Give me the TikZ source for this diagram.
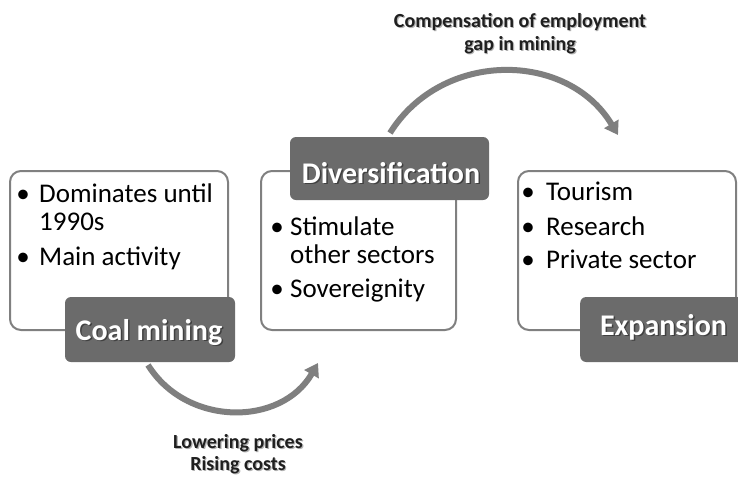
\documentclass[tikz,border=0pt]{standalone}
\usepackage{fontspec}
\setmainfont{Carlito}
\usetikzlibrary{arrows.meta}
\definecolor{boxline}{HTML}{808080}
\definecolor{darkfill}{HTML}{6B6B6B}
\definecolor{arrowc}{HTML}{7F7F7F}
\tikzset{
  whitebox/.style={draw=boxline, line width=2pt, fill=white, rounded corners=11pt, anchor=north west, inner sep=0pt},
  darkbox/.style={fill=darkfill, rounded corners=6pt, inner sep=0pt},
  bodytxt/.style={font=\fontsize{27}{28}\selectfont, inner sep=0pt, anchor=base west, text=black},
  bul/.style={font=\fontsize{27}{28}\selectfont, inner sep=0pt, anchor=base, text=black},
  lbltxt/.style={font=\fontsize{30}{32}\selectfont\bfseries, text=white, inner sep=0pt, anchor=base},
  lblshadow/.style={lbltxt, text=black!75},
  captxt/.style={font=\fontsize{20}{23}\selectfont\bfseries, inner sep=0pt, anchor=base, text=black!88},
  capshadow/.style={captxt, text=black!30},
  flow/.style={draw=arrowc, line width=6pt, -{Triangle[length=13pt,width=16pt]}},
}
\begin{document}
\begin{tikzpicture}[x=1pt,y=1pt]
\useasboundingbox (0,0) rectangle (738,-477);
\fill[white] (0,0) rectangle (738,-477);

% white content boxes
\node[whitebox, minimum width=218pt, minimum height=159pt] (b1) at (9,-170) {};
\node[whitebox, minimum width=195pt, minimum height=159pt] (b2) at (260,-170) {};
\node[whitebox, minimum width=218pt, minimum height=159pt] (b3) at (517,-170) {};

% box 1 text
\node[bul] (b1u1) at (23,-202) {•};
\node[bodytxt] (b1t1) at (39,-202) {Dominates until};
\node[bodytxt] (b1t2) at (39,-230) {1990s};
\node[bul] (b1u2) at (23,-265) {•};
\node[bodytxt] (b1t3) at (39,-265) {Main activity};

% box 2 text
\node[bul] (b2u1) at (277,-235) {•};
\node[bodytxt] (b2t1) at (290,-235) {Stimulate};
\node[bodytxt] (b2t2) at (290,-263) {other sectors};
\node[bul] (b2u2) at (277,-297) {•};
\node[bodytxt] (b2t3) at (290,-297) {Sovereignity};

% box 3 text
\node[bul] (b3u1) at (528,-200) {•};
\node[bodytxt] (b3t1) at (546,-200) {Tourism};
\node[bul] (b3u2) at (528,-235) {•};
\node[bodytxt] (b3t2) at (546,-235) {Research};
\node[bul] (b3u3) at (528,-268) {•};
\node[bodytxt] (b3t3) at (546,-268) {Private sector};

% dark label boxes
\node[darkbox, minimum width=170pt, minimum height=65pt] (l1) at (150,-329.5) {};
\node[darkbox, minimum width=199pt, minimum height=63pt] (l2) at (389.5,-168.5) {};
\node[darkbox, minimum width=165pt, minimum height=65pt, anchor=west] (l3) at (580,-329.5) {};

\node[lblshadow] (l1s) at (150.5,-341.5) {Coal mining};
\node[lbltxt] (l1t) at (149,-340) {Coal mining};
\node[lblshadow] (l2s) at (392.5,-184.5) {Diversification};
\node[lbltxt] (l2t) at (391,-183) {Diversification};
\node[lblshadow] (l3s) at (665,-336.5) {Expansion};
\node[lbltxt] (l3t) at (663.5,-335) {Expansion};

% arrows
\coordinate (a1s) at (148,-365);
\coordinate (a1e) at (318,-363);
\draw[flow] (a1s) to[out=-58, in=-120, looseness=1.1] (a1e);
\coordinate (a2s) at (390,-133);
\coordinate (a2e) at (618,-135);
\draw[flow] (a2s) to[out=58, in=121, looseness=1.1] (a2e);

% captions
\node[capshadow] (c1as) at (521.2,-28.2) {Compensation of employment};
\node[captxt] (c1a) at (520,-27) {Compensation of employment};
\node[capshadow] (c1bs) at (521.2,-51.2) {gap in mining};
\node[captxt] (c1b) at (520,-50) {gap in mining};
\node[capshadow] (c2as) at (239.2,-449.2) {Lowering prices};
\node[captxt] (c2a) at (238,-448) {Lowering prices};
\node[capshadow] (c2bs) at (239.2,-471.2) {Rising costs};
\node[captxt] (c2b) at (238,-470) {Rising costs};
\end{tikzpicture}
\end{document}
